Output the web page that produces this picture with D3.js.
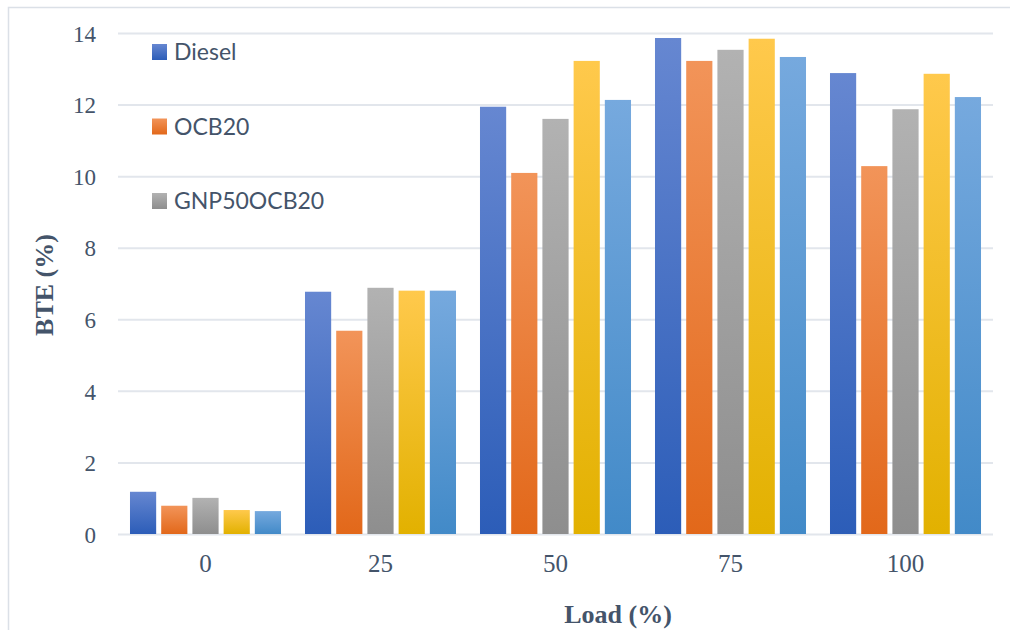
<!DOCTYPE html>
<html>
<head>
<meta charset="utf-8">
<script src="https://cdn.jsdelivr.net/npm/d3@7/dist/d3.min.js"></script>
<style>
  html, body { margin: 0; padding: 0; background: #fff; }
  svg { display: block; }
</style>
</head>
<body>
<svg id="chart" width="1010" height="630"></svg>
<script>
// Engine load steps (%)
const loads = ["0", "25", "50", "75", "100"];

// Fuel blends
const seriesNames = ["Diesel", "OCB20", "GNP50OCB20", "GNP75OCB20", "GNP100OCB20"];

// Brake thermal efficiency (%) per blend, one value per load step
const diesel      = [1.18, 6.77, 11.94, 13.86, 12.88];
const ocb20       = [0.79, 5.68, 10.09, 13.22, 10.28];
const gnp50ocb20  = [1.01, 6.88, 11.60, 13.53, 11.87];
const gnp75ocb20  = [0.67, 6.80, 13.22, 13.84, 12.86];
const gnp100ocb20 = [0.64, 6.80, 12.13, 13.33, 12.21];
const seriesValues = [diesel, ocb20, gnp50ocb20, gnp75ocb20, gnp100ocb20];

// Only the first three blends carry a legend entry
const legendEntries = ["Diesel", "OCB20", "GNP50OCB20"];

const yTicks = [0, 2, 4, 6, 8, 10, 12, 14];

// Top / bottom colours of each bar's vertical gradient
const gradStops = [
  ["#6687d1", "#2c5db8"],
  ["#f29459", "#e2681a"],
  ["#b2b2b2", "#8e8e8e"],
  ["#ffc94c", "#e2b100"],
  ["#76a9de", "#428ac8"]
];

const svg = d3.select("#chart");
const textColor = "#44546a";

// Outer frame (top and left edges show inside the canvas)
svg.append("rect")
  .attr("x", 8.5).attr("y", 7.5)
  .attr("width", 1020).attr("height", 640)
  .attr("fill", "none")
  .attr("stroke", "#dbe0e7")
  .attr("stroke-width", 1.5);

const plot = { left: 118, right: 993, top: 33, bottom: 534 };

const x0 = d3.scaleBand()
  .domain(loads)
  .range([plot.left, plot.right])
  .paddingInner(0.137)
  .paddingOuter(0.0685);

const x1 = d3.scaleBand()
  .domain(seriesNames)
  .range([0, x0.bandwidth()])
  .paddingInner(0.161)
  .paddingOuter(0);

const y = d3.scaleLinear()
  .domain([0, 14])
  .range([plot.bottom, plot.top]);

// Gradients
const defs = svg.append("defs");
seriesNames.forEach((name, i) => {
  const g = defs.append("linearGradient")
    .attr("id", "grad" + i)
    .attr("x1", 0).attr("y1", 0).attr("x2", 0).attr("y2", 1);
  g.append("stop").attr("offset", "0%").attr("stop-color", gradStops[i][0]);
  g.append("stop").attr("offset", "100%").attr("stop-color", gradStops[i][1]);
});

// Horizontal gridlines
const yAxis = d3.axisLeft(y)
  .tickValues(yTicks)
  .tickSize(-(plot.right - plot.left))
  .tickPadding(22)
  .tickFormat(d3.format("d"));

const gy = svg.append("g")
  .attr("transform", `translate(${plot.left},0)`)
  .call(yAxis);
gy.select(".domain").remove();
gy.selectAll(".tick line")
  .attr("stroke", "#e2e6ec")
  .attr("stroke-width", 2);
gy.selectAll(".tick text")
  .attr("fill", textColor)
  .attr("font-family", "'Liberation Serif', 'Times New Roman', serif")
  .attr("font-size", 23)
  .attr("dy", "0.36em");

// Bars
const groups = svg.append("g")
  .selectAll("g")
  .data(loads)
  .join("g")
  .attr("transform", d => `translate(${x0(d)},0)`);

groups.selectAll("rect")
  .data((d, li) => seriesNames.map((s, si) => ({ s, si, v: seriesValues[si][li] })))
  .join("rect")
  .attr("x", d => x1(d.s))
  .attr("width", x1.bandwidth())
  .attr("y", d => y(d.v))
  .attr("height", d => y(0) - y(d.v))
  .attr("fill", d => `url(#grad${d.si})`);

// Category labels
const xAxis = d3.axisBottom(x0).tickSize(0).tickPadding(20);
const gx = svg.append("g")
  .attr("transform", `translate(0,${plot.bottom})`)
  .call(xAxis);
gx.select(".domain").remove();
gx.selectAll(".tick text")
  .attr("fill", textColor)
  .attr("font-family", "'Liberation Serif', 'Times New Roman', serif")
  .attr("font-size", 25);

// Axis titles
svg.append("text")
  .attr("x", 618).attr("y", 623)
  .attr("text-anchor", "middle")
  .attr("fill", textColor)
  .attr("font-family", "'Liberation Serif', 'Times New Roman', serif")
  .attr("font-weight", "bold")
  .attr("font-size", 26)
  .text("Load (%)");

svg.append("text")
  .attr("transform", "translate(53,285) rotate(-90)")
  .attr("text-anchor", "middle")
  .attr("fill", textColor)
  .attr("font-family", "'Liberation Serif', 'Times New Roman', serif")
  .attr("font-weight", "bold")
  .attr("font-size", 26)
  .text("BTE (%)");

// Legend
const legend = svg.append("g");
const legendY = d3.scalePoint().domain(legendEntries).range([52, 201]);
legendEntries.forEach(name => {
  const si = seriesNames.indexOf(name);
  const cy = legendY(name);
  legend.append("rect")
    .attr("x", 152).attr("y", cy - 8)
    .attr("width", 15).attr("height", 16)
    .attr("fill", `url(#grad${si})`);
  legend.append("text")
    .attr("x", 174).attr("y", cy)
    .attr("dy", "0.36em")
    .attr("fill", textColor)
    .attr("font-family", "Lato, 'Open Sans', sans-serif")
    .attr("font-size", 23)
    .text(name);
});
</script>
</body>
</html>
